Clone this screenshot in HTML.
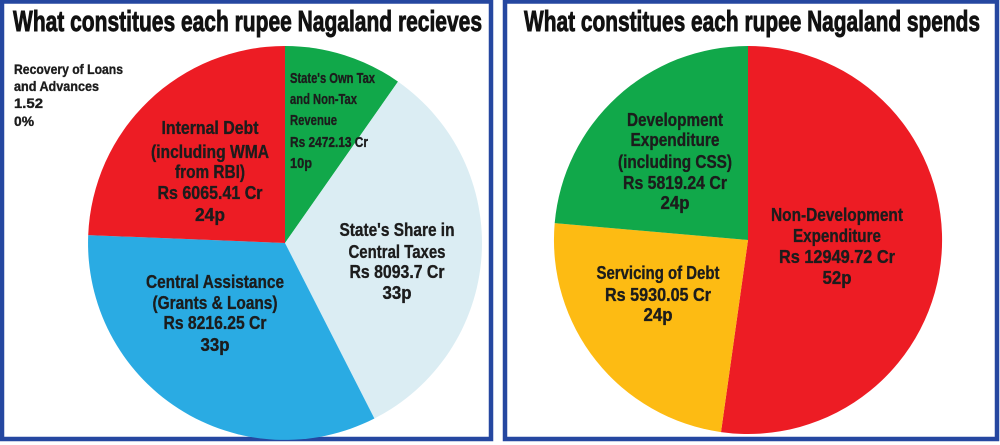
<!DOCTYPE html>
<html><head><meta charset="utf-8"><style>
html,body{margin:0;padding:0;background:#fff;width:1000px;height:445px;overflow:hidden}
text{font-family:"Liberation Sans",sans-serif;font-weight:bold;fill:#1c1c1c;stroke:#1c1c1c;stroke-width:0.35}
.t{stroke-width:0.9;fill:#111;stroke:#111}
</style></head><body>
<svg width="1000" height="445" viewBox="0 0 1000 445" xmlns="http://www.w3.org/2000/svg">
<rect x="0" y="0" width="1000" height="445" fill="#fff"/>
<rect x="2" y="1.5" width="489" height="437.5" fill="none" stroke="#2547a0" stroke-width="4.5"/>
<rect x="505" y="1.5" width="492" height="437.5" fill="none" stroke="#2547a0" stroke-width="4.5"/>

<text class="t" x="13" y="31" font-size="29" textLength="469" lengthAdjust="spacingAndGlyphs">What constitues each rupee Nagaland recieves</text>
<text class="t" x="524" y="31" font-size="29" textLength="456" lengthAdjust="spacingAndGlyphs">What constitues each rupee Nagaland spends</text>

<!-- left pie -->
<path d="M285,243 L285,46 A197,197 0 0 1 398,81.6 Z" fill="#11a84a"/>
<path d="M285,243 L398,81.6 A197,197 0 0 1 374.4,418.5 Z" fill="#dbedf3"/>
<path d="M285,243 L374.4,418.5 A197,197 0 0 1 88.2,235.1 Z" fill="#2aabe3"/>
<path d="M285,243 L88.2,235.1 A197,197 0 0 1 285,46 Z" fill="#ed1c24"/>

<g font-size="14">
<text x="14" y="74" textLength="109" lengthAdjust="spacingAndGlyphs">Recovery of Loans</text>
<text x="14" y="91" textLength="85" lengthAdjust="spacingAndGlyphs">and Advances</text>
<text x="14" y="108" textLength="29" lengthAdjust="spacingAndGlyphs">1.52</text>
<text x="14" y="126" textLength="20" lengthAdjust="spacingAndGlyphs">0%</text>
</g>
<g font-size="18" text-anchor="middle">
<text x="210" y="134" textLength="97" lengthAdjust="spacingAndGlyphs">Internal Debt</text>
<text x="210" y="158" textLength="118" lengthAdjust="spacingAndGlyphs">(including WMA</text>
<text x="210" y="178" textLength="70" lengthAdjust="spacingAndGlyphs">from RBI)</text>
<text x="210" y="199" textLength="105" lengthAdjust="spacingAndGlyphs">Rs 6065.41 Cr</text>
<text x="210" y="221" textLength="30" lengthAdjust="spacingAndGlyphs">24p</text>
</g>
<g font-size="15">
<text x="290" y="83" textLength="85" lengthAdjust="spacingAndGlyphs">State's Own Tax</text>
<text x="290" y="104" textLength="67" lengthAdjust="spacingAndGlyphs">and Non-Tax</text>
<text x="290" y="125" textLength="47" lengthAdjust="spacingAndGlyphs">Revenue</text>
<text x="290" y="147" textLength="78" lengthAdjust="spacingAndGlyphs">Rs 2472.13 Cr</text>
<text x="290" y="168" textLength="22" lengthAdjust="spacingAndGlyphs">10p</text>
</g>
<g font-size="18" text-anchor="middle">
<text x="397" y="236" textLength="115" lengthAdjust="spacingAndGlyphs">State's Share in</text>
<text x="397" y="258" textLength="97" lengthAdjust="spacingAndGlyphs">Central Taxes</text>
<text x="397" y="278" textLength="95" lengthAdjust="spacingAndGlyphs">Rs 8093.7 Cr</text>
<text x="397" y="299" textLength="29" lengthAdjust="spacingAndGlyphs">33p</text>
<text x="215" y="288" textLength="138" lengthAdjust="spacingAndGlyphs">Central Assistance</text>
<text x="215" y="309" textLength="125" lengthAdjust="spacingAndGlyphs">(Grants &amp; Loans)</text>
<text x="215" y="329" textLength="103" lengthAdjust="spacingAndGlyphs">Rs 8216.25 Cr</text>
<text x="215" y="351" textLength="29" lengthAdjust="spacingAndGlyphs">33p</text>
</g>

<!-- right pie -->
<path d="M748,240 L748,46 A194,194 0 1 1 721,432.1 Z" fill="#ed1c24"/>
<path d="M748,240 L721,432.1 A194,194 0 0 1 554.7,223.1 Z" fill="#fdbb13"/>
<path d="M748,240 L554.7,223.1 A194,194 0 0 1 748,46 Z" fill="#11a84a"/>

<g font-size="18" text-anchor="middle">
<text x="675" y="126" textLength="96" lengthAdjust="spacingAndGlyphs">Development</text>
<text x="675" y="146" textLength="89" lengthAdjust="spacingAndGlyphs">Expenditure</text>
<text x="675" y="168" textLength="114" lengthAdjust="spacingAndGlyphs">(including CSS)</text>
<text x="675" y="189" textLength="104" lengthAdjust="spacingAndGlyphs">Rs 5819.24 Cr</text>
<text x="675" y="209" textLength="29" lengthAdjust="spacingAndGlyphs">24p</text>
<text x="837" y="221" textLength="132" lengthAdjust="spacingAndGlyphs">Non-Development</text>
<text x="837" y="242" textLength="88" lengthAdjust="spacingAndGlyphs">Expenditure</text>
<text x="837" y="263" textLength="116" lengthAdjust="spacingAndGlyphs">Rs 12949.72 Cr</text>
<text x="837" y="284" textLength="29" lengthAdjust="spacingAndGlyphs">52p</text>
<text x="658" y="279" textLength="123" lengthAdjust="spacingAndGlyphs">Servicing of Debt</text>
<text x="658" y="301" textLength="106" lengthAdjust="spacingAndGlyphs">Rs 5930.05 Cr</text>
<text x="658" y="321" textLength="29" lengthAdjust="spacingAndGlyphs">24p</text>
</g>
</svg>
</body></html>
